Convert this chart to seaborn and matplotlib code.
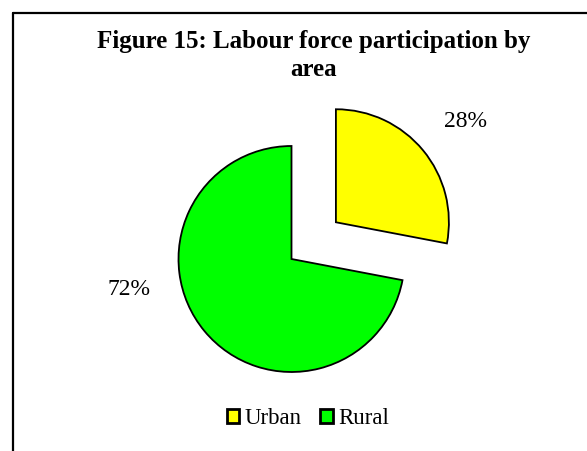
import matplotlib
matplotlib.use("Agg")
import matplotlib.pyplot as plt
import seaborn as sns

areas = ["Urban", "Rural"]
shares = [28, 72]
colors = ["#FFFF00", "#00FF00"]
explode = [0.51, 0]

sns.set_theme(style="white")
plt.rcParams['font.family'] = ['Liberation Serif', 'DejaVu Serif']
plt.rcParams['text.color'] = 'black'

W, H = 587, 451
R = 113.0  # pie radius in pixels
cx, cy = 291.5, 192.0  # pie centre, pixels from bottom-left

fig = plt.figure(figsize=(W / 100, H / 100), dpi=100)
fig.patch.set_facecolor("white")
ax = fig.add_axes([0, 0, 1, 1])

wedges, texts, autotexts = ax.pie(
    shares, colors=colors, explode=explode, startangle=90, counterclock=False,
    autopct=lambda p: f"{p:.0f}%", pctdistance=1.4,
    wedgeprops=dict(edgecolor="black", linewidth=1.3),
    textprops=dict(fontsize=17, color="black"),
)

# label placement as in the original (Excel-style)
label_pos = [(1.544, 1.217), (-1.434, -0.274)]
for t, pos in zip(autotexts, label_pos):
    t.set_position(pos)
    t.set_ha("center")
    t.set_va("center")

ax.set_xlim(-cx / R, (W - cx) / R)
ax.set_ylim(-cy / R, (H - cy) / R)
ax.set_aspect("equal", adjustable="box")
ax.axis("off")

fig.text(314 / W, 1 - 30 / H, "Figure 15: Labour force participation by\narea",
         ha="center", va="top", fontsize=18, fontweight="bold", color="black",
         multialignment="center", linespacing=1.3)

leg = fig.legend(wedges, areas, loc="center", bbox_to_anchor=(308 / W, 1 - 419 / H),
                 ncol=2, frameon=False, fontsize=16.5, handlelength=0.55, handleheight=0.55,
                 handletextpad=0.25, columnspacing=0.8, borderpad=0)
for h in leg.legend_handles:
    h.set_linewidth(2.0)
    h.set_edgecolor("black")

# chart border (top and left edges visible)
fig.add_artist(plt.Line2D([12.5 / W, 1], [1 - 12.5 / H, 1 - 12.5 / H],
                          transform=fig.transFigure, color="black", linewidth=1.6))
fig.add_artist(plt.Line2D([12.5 / W, 12.5 / W], [0, 1 - 12.5 / H],
                          transform=fig.transFigure, color="black", linewidth=1.6))

fig.savefig("out.png", dpi=100, facecolor="white")
